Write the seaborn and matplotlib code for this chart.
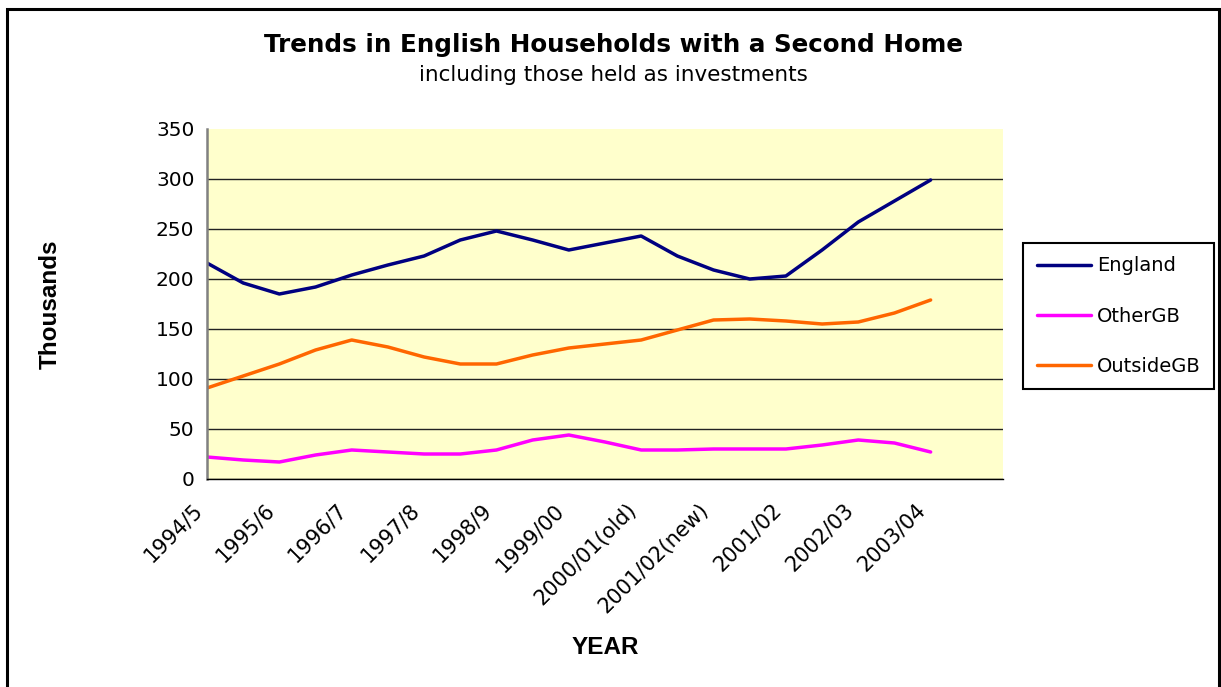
import matplotlib
matplotlib.use('Agg')
import matplotlib.pyplot as plt
import matplotlib.transforms as mtransforms
from matplotlib.patches import Rectangle
import numpy as np
import pandas as pd
import seaborn as sns

# Year labels on the x axis (last slot is empty in the original chart)
years = ['1994/5', '1995/6', '1996/7', '1997/8', '1998/9', '1999/00',
         '2000/01(old)', '2001/02(new)', '2001/02', '2002/03', '2003/04']

# Values (thousands) read at each year and half-way between years
england = [216, 196, 185, 192, 204, 214, 223, 239, 248, 239, 229,
           236, 243, 223, 209, 200, 203, 229, 257, 278, 299]
other_gb = [22, 19, 17, 24, 29, 27, 25, 25, 29, 39, 44,
            37, 29, 29, 30, 30, 30, 34, 39, 36, 27]
outside_gb = [91, 103, 115, 129, 139, 132, 122, 115, 115, 124, 131,
              135, 139, 149, 159, 160, 158, 155, 157, 166, 179]

series_names = ['England', 'OtherGB', 'OutsideGB']
colors = ['#000080', '#FF00FF', '#FF6600']

pos = np.arange(len(england)) / 2
df = pd.concat([
    pd.DataFrame({'pos': pos, 'value': vals, 'series': name})
    for name, vals in zip(series_names, [england, other_gb, outside_gb])
])

sns.set_style('white')
plt.rcParams['font.family'] = ['DejaVu Sans']
plt.rcParams['text.color'] = 'black'
plt.rcParams['xtick.color'] = 'black'
plt.rcParams['ytick.color'] = 'black'

fig = plt.figure(figsize=(12.21, 6.87), dpi=100)
ax = fig.add_axes([207 / 1221, 1 - 479 / 687, (1003 - 207) / 1221, (479 - 129) / 687])
ax.set_facecolor('#FFFFCC')

sns.lineplot(data=df, x='pos', y='value', hue='series',
             palette=dict(zip(series_names, colors)), linewidth=2.5,
             legend=False, ax=ax)

ax.set_xlim(0, len(years))
ax.set_ylim(0, 350)
ax.set_yticks(range(0, 351, 50))
ax.set_xticks(range(len(years) + 1))
ax.tick_params(axis='y', labelsize=14.5, direction='inout', length=8, width=1, pad=5)
ax.tick_params(axis='x', direction='inout', length=8, width=1, pad=16)
ax.set_xticklabels(years + [''], rotation=45, ha='right', va='center',
                   rotation_mode='anchor', fontsize=15)
# nudge the rotated labels left so they end just before each tick
offset = mtransforms.ScaledTranslation(-8 / 100, 0, fig.dpi_scale_trans)
for lab in ax.get_xticklabels():
    lab.set_transform(lab.get_transform() + offset)
ax.set_xlabel('')
ax.set_ylabel('')

ax.yaxis.grid(True, color='#222222', linewidth=1)
ax.get_ygridlines()[-1].set_visible(False)
ax.set_axisbelow(True)

for side in ['top', 'right']:
    ax.spines[side].set_visible(False)
ax.spines['left'].set_color('#808080')
ax.spines['left'].set_linewidth(1.8)
ax.spines['bottom'].set_color('black')
ax.spines['bottom'].set_linewidth(1)

fig.text(613 / 1221, 1 - 45 / 687, 'Trends in English Households with a Second Home',
         ha='center', va='center', fontsize=17.7, fontweight='bold')
fig.text(613 / 1221, 1 - 75 / 687, 'including those held as investments',
         ha='center', va='center', fontsize=15.5)
fig.text(50 / 1221, 1 - 304 / 687, 'Thousands', rotation=90, ha='center', va='center',
         fontsize=17.5, fontweight='bold', family='Liberation Sans')
fig.text(605 / 1221, 1 - 647 / 687, 'YEAR', ha='center', va='center',
         fontsize=17.5, fontweight='bold', family='Liberation Sans')

handles = [plt.Line2D([], [], color=c, linewidth=2.5) for c in colors]
leg = fig.legend(handles, series_names, loc='center left',
                 bbox_to_anchor=(1023 / 1221, 1 - 316 / 687), fontsize=14,
                 frameon=True, fancybox=False, edgecolor='black', framealpha=1,
                 handlelength=2.8, handletextpad=0.3, labelspacing=1.6,
                 borderpad=0.7, borderaxespad=0)
leg.get_frame().set_linewidth(1.5)

fig.add_artist(Rectangle((7 / 1221, -0.05), (1219 - 7) / 1221, 1.05 - 9 / 687,
                         transform=fig.transFigure, fill=False,
                         edgecolor='black', linewidth=2.2))

fig.savefig('out.png', dpi=100)
